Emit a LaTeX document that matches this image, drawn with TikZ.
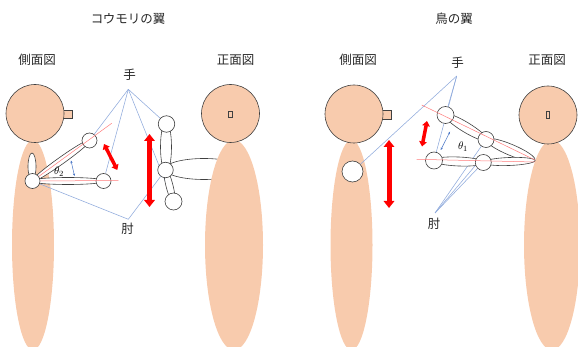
\documentclass[tikz,border=0pt]{standalone}
\usepackage{fontspec}
\newfontfamily\jp{Noto Sans CJK JP}
\usetikzlibrary{arrows.meta,shapes.geometric}
\definecolor{skin}{HTML}{F8CBAD}
\definecolor{edge}{HTML}{404040}
\definecolor{guide}{HTML}{8FAADC}
\definecolor{axis}{HTML}{FF7C7C}
\definecolor{gapblue}{HTML}{4472C4}
\pgfdeclarelayer{bodies}
\pgfdeclarelayer{guides}
\pgfdeclarelayer{marks}
\pgfsetlayers{bodies,guides,main,marks}

\begin{document}
\begin{tikzpicture}[x=1pt,y=-1pt,
  jtext/.style={font=\jp\fontsize{12.5}{14}\selectfont, inner sep=0, text=black!85},
  angletext/.style={font=\fontsize{11}{13}\selectfont, inner sep=0},
  trunk/.style={ellipse, fill=skin, inner sep=0, minimum width=#1, minimum height=210pt},
  headball/.style={circle, draw=edge, fill=skin, line width=0.6pt, inner sep=0, minimum size=58pt},
  joint/.style={circle, draw=edge, fill=white, line width=0.6pt, inner sep=0, minimum size=#1},
  bone/.style={ellipse, draw=edge, fill=white, line width=0.6pt, inner sep=0},
  guideline/.style={draw=guide, line width=0.55pt},
  axisline/.style={draw=axis, line width=0.5pt},
  gaparrow/.style={draw=gapblue, line width=0.5pt, arrows={Stealth[length=2.6pt,width=2.2pt]-Stealth[length=2.6pt,width=2.2pt]}},
  bigmove/.style={draw=red, line width=5pt, arrows={Triangle[length=7pt,width=10.5pt]-Triangle[length=7pt,width=10.5pt]}},
  smallmove/.style={draw=red, line width=3.5pt, arrows={Triangle[length=5pt,width=7.5pt]-Triangle[length=5pt,width=7.5pt]}}
]
\useasboundingbox (0,0) rectangle (578,347);

% ---------- bodies and heads ----------
\begin{pgfonlayer}{bodies}
  % bat, side view
  \node[trunk=42pt] (bat-side-body) at (33,245) {};
  \draw[edge, fill=skin, line width=0.6pt] (62,110) rectangle (72,118);
  \node[headball] (bat-side-head) at (35,113.5) {};
  % bat, front view (arm passes behind the trunk)
  \node[bone, minimum width=78pt, minimum height=21pt] (bat-arm) at (204,169) {};
  \node[trunk=58pt] (bat-front-body) at (234,245) {};
  \node[headball] (bat-front-head) at (230.5,113.5) {};
  \draw[edge, line width=0.5pt] (228.3,111.5) rectangle (232.3,117.5);
  % bird, side view
  \node[trunk=42pt] (bird-side-body) at (351.5,245) {};
  \draw[edge, fill=skin, line width=0.6pt] (380,110) rectangle (391,119);
  \node[headball] (bird-side-head) at (354,114) {};
  % bird, front view
  \node[trunk=56pt] (bird-front-body) at (552,245) {};
  \node[headball] (bird-front-head) at (548,115) {};
  \draw[edge, line width=0.5pt] (546,111.5) rectangle (549.5,118.5);
\end{pgfonlayer}

% ---------- titles and labels ----------
\node[jtext] (t-bat)  at (128,19) {コウモリの翼};
\node[jtext] (t-bird) at (454,19) {鳥の翼};
\node[jtext] (t-bat-side)   at (37,60)  {側面図};
\node[jtext] (t-bat-front)  at (235.5,60) {正面図};
\node[jtext] (t-bird-side)  at (358,60) {側面図};
\node[jtext] (t-bird-front) at (547,60) {正面図};
\node[jtext] (t-bat-hand)   at (129.5,75) {手};
\node[jtext] (t-bat-elbow)  at (127.5,229) {肘};
\node[jtext] (t-bird-hand)  at (457.5,63) {手};
\node[jtext] (t-bird-elbow) at (434,223.5) {肘};

% ---------- bat wing, side view ----------
\node[bone, minimum width=8pt, minimum height=27pt] (bat-fold) at (32,166.5) {};
\node[bone, minimum width=74pt, minimum height=7pt, rotate=35.4] (bat-upper-bone) at (61,160.75) {};
\node[bone, minimum width=75pt, minimum height=7pt] (bat-lower-bone) at (68,181) {};
\node[joint=15pt] (bs) at (32.5,181) {};
\node[joint=15pt] (bu) at (89.5,140.5) {};
\node[joint=15pt] (bl) at (103.5,181) {};
\node[angletext] (theta2) at (59,172) {$\theta_2$};

% ---------- bat wing, front view ----------
\node[bone, minimum width=11pt, minimum height=50pt] (bat-front-upper) at (166,147) {};
\node[bone, minimum width=36.5pt, minimum height=7pt, rotate=-75.75] (bat-front-lower) at (169.5,185.75) {};
\node[joint=16.5pt] (fu) at (166.5,124) {};
\node[joint=15.5pt] (fm) at (165.5,170) {};
\node[joint=17pt] (fl) at (173.5,201.5) {};

% ---------- bird ----------
\node[joint=21pt] (ws) at (352.5,171.5) {};
\node[bone, minimum width=50pt, minimum height=10pt, rotate=-31.2] (bird-upper-a) at (465.75,127.25) {};
\node[bone, minimum width=53pt, minimum height=11pt, rotate=-22.7] (bird-upper-b) at (510.5,149.75) {};
\node[bone, minimum width=52pt, minimum height=9pt, rotate=-2.3] (bird-lower-a) at (458.65,161.5) {};
\node[bone, minimum width=52pt, minimum height=8pt, rotate=2.2] (bird-lower-b) at (509.15,161.5) {};
\node[joint=17pt] (ul) at (445.5,115) {};
\node[joint=16pt] (um) at (486,139.5) {};
\node[joint=17pt] (ll) at (434,160.5) {};
\node[joint=16pt] (lm) at (483.3,162.5) {};
\node[angletext] (theta1) at (463,147) {$\theta_1$};

% ---------- guide lines ----------
\coordinate (bat-hand)  at (128.3,89.3);
\coordinate (bat-elbow) at (128.3,219.3);
\coordinate (bird-hand)  at (456.7,76);
\coordinate (bird-elbow) at (435,213);
\begin{pgfonlayer}{guides}
  \draw[guideline] (bat-hand) -- (bu);
  \draw[guideline] (bat-hand) -- (bl);
  \draw[guideline] (bat-hand) -- (fu);
  \draw[guideline] (bat-hand) -- (fl);
  \draw[guideline] (bat-elbow) -- (bs);
  \draw[guideline] (bat-elbow) -- (fm);
  \draw[guideline] (bird-hand) -- (ws);
  \draw[guideline] (bird-hand) -- (ul);
  \draw[guideline] (bird-hand) -- (ll);
  \draw[guideline] (bird-elbow) -- (um);
  \draw[guideline] (bird-elbow) -- (lm);
  \draw[guideline] (bird-elbow) -- (lm.200);
\end{pgfonlayer}

% ---------- wing axes, angles and motion ----------
\coordinate (bat-axis-up) at (111.7,123.3);
\coordinate (bat-axis-lo) at (118.3,180.5);
\coordinate (bird-axis-up-a) at (421.7,105);
\coordinate (bird-axis-up-b) at (535,160);
\coordinate (bird-axis-lo-a) at (416.7,159.3);
\coordinate (bird-axis-lo-b) at (535,162);
\coordinate (bat-gap-a) at (71,160.5);
\coordinate (bat-gap-b) at (74.5,176);
\coordinate (bird-gap-a) at (450,131.7);
\coordinate (bird-gap-b) at (440.7,150);
\coordinate (bat-swing-a) at (104,144);
\coordinate (bat-swing-b) at (117.3,170);
\coordinate (bat-lift-a) at (149.5,134);
\coordinate (bat-lift-b) at (149.5,207);
\coordinate (bird-swing-a) at (427,121);
\coordinate (bird-swing-b) at (422,146.5);
\coordinate (bird-lift-a) at (389,140);
\coordinate (bird-lift-b) at (389,208);
\begin{pgfonlayer}{marks}
  \draw[axisline] (bs) -- (bat-axis-up);
  \draw[axisline] (bs) -- (bat-axis-lo);
  \draw[axisline] (bird-axis-up-a) -- (bird-axis-up-b);
  \draw[axisline] (bird-axis-lo-a) -- (bird-axis-lo-b);
  \draw[gaparrow] (bat-gap-a) -- (bat-gap-b);
  \draw[gaparrow] (bird-gap-a) -- (bird-gap-b);
  \draw[smallmove] (bat-swing-a) -- (bat-swing-b);
  \draw[bigmove] (bat-lift-a) -- (bat-lift-b);
  \draw[smallmove] (bird-swing-a) -- (bird-swing-b);
  \draw[bigmove] (bird-lift-a) -- (bird-lift-b);
\end{pgfonlayer}
\end{tikzpicture}
\end{document}
